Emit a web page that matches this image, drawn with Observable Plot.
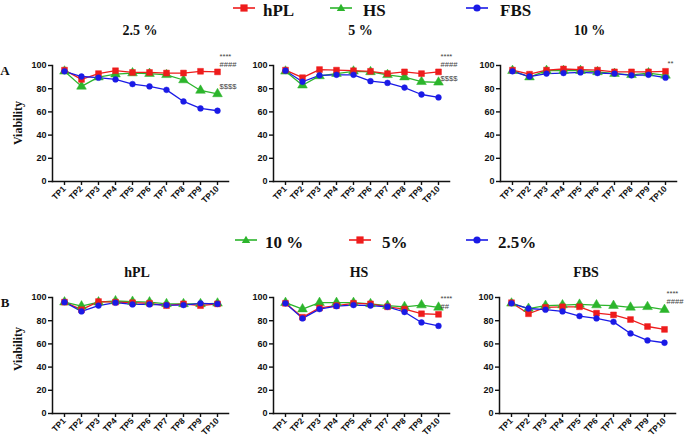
<!DOCTYPE html>
<html><head><meta charset="utf-8">
<script src="https://cdn.jsdelivr.net/npm/d3@7"></script>
<script src="https://cdn.jsdelivr.net/npm/@observablehq/plot@0.6"></script>
<style>
body{margin:0;background:#fff;}
#root{position:relative;width:685px;height:438px;overflow:hidden;font-family:"Liberation Serif","Times New Roman",serif;color:#111;}
.abs{position:absolute;}
.ctr{transform:translate(-50%,-50%);white-space:nowrap;font-weight:bold;line-height:1;}
.title{font-size:14px;}
.leg{font-size:17px;font-weight:bold;transform:translateY(-50%);white-space:nowrap;line-height:1;}
.ylab{font-size:12px;font-weight:bold;transform:translate(-50%,-50%) rotate(-90deg);white-space:nowrap;line-height:1;}
.panel{position:absolute;}
</style>
</head><body><div id="root"></div>
<script>
// ---------- data ----------
const timepoints = ["TP1","TP2","TP3","TP4","TP5","TP6","TP7","TP8","TP9","TP10"];
const sera = ["hPL","HS","FBS"];
const concentrations = ["2.5 %","5 %","10 %"];
const concLegend = ["10 %","5%","2.5%"];
const yTicks = [0,20,40,60,80,100];

const hPL_2_5 = [96,88,93,95.5,94,94,93.5,93.5,95,94.5];
const hPL_5   = [96,89.5,96.5,96,95.5,95,93,94.5,93,94.5];
const hPL_10  = [96,92.5,96,97,96.5,96,94.5,94.5,94.5,95];
const HS_2_5  = [95,82,90,92.5,93.5,93,92,87.5,78.5,75.5];
const HS_5    = [95,83,91,93,95,94.5,92,90,86,85.5];
const HS_10   = [95.5,90,95.5,95.5,95.5,94.5,93,92,93.5,91.5];
const FBS_2_5 = [95,90.5,89.5,88,84,82,79,69,63,61];
const FBS_5   = [95.5,86,91.5,92,92,86.5,85,81,75,72.5];
const FBS_10  = [95,90.5,93,93.5,94,93.5,93,91.5,92,89.5];

// significance annotations (value-axis position in %)
const annA = [
  [{t:"****",v:107.5},{t:"####",v:101},{t:"$$$$",v:82}],
  [{t:"****",v:107.5},{t:"####",v:101},{t:"$$$$",v:89}],
  [{t:"**",v:101.5}]
];
const annB = [
  [],
  [{t:"****",v:99},{t:"##",v:92.5}],
  [{t:"****",v:103},{t:"####",v:96.5}]
];

// ---------- build tidy tables ----------
const table = {
  hPL: {"2.5":hPL_2_5,"5":hPL_5,"10":hPL_10},
  HS:  {"2.5":HS_2_5,"5":HS_5,"10":HS_10},
  FBS: {"2.5":FBS_2_5,"5":FBS_5,"10":FBS_10}
};
const concKeys = ["2.5","5","10"];
function rows(arr){ return arr.map((v,i)=>({tp:timepoints[i], v})); }

const RED="#ee1c1c", GREEN="#2cb52c", BLUE="#1a1ae6";
const serumStyle = {hPL:{c:RED,s:"square",r:3.3}, HS:{c:GREEN,s:"triangle",r:3.6}, FBS:{c:BLUE,s:"circle",r:2.9}};
const concStyle = {"10":{c:GREEN,s:"triangle",r:3.6}, "5":{c:RED,s:"square",r:3.3}, "2.5":{c:BLUE,s:"circle",r:2.9}};

const root = document.getElementById("root");
function add(html, cls, x, y){ const d=document.createElement("div"); d.className="abs "+cls; d.style.left=x+"px"; d.style.top=y+"px"; d.innerHTML=html; root.appendChild(d); return d; }

function panel(series, ann, mb){
  const marks = [];
  for (const s of series){
    marks.push(Plot.line(s.data,{x:"tp",y:"v",stroke:s.c,strokeWidth:1.3}));
  }
  for (const s of series){
    marks.push(Plot.dot(s.data,{x:"tp",y:"v",fill:s.c,stroke:s.c,strokeWidth:0.5,symbol:s.s,r:s.r}));
  }
  marks.push(Plot.text(ann,{x:()=>"TP10",y:"v",text:"t",textAnchor:"start",dx:2,fontSize:7.6,fontWeight:"normal",fill:"#444",fontFamily:"Liberation Sans, Arial, sans-serif"}));
  marks.push(Plot.axisY({ticks:yTicks,tickSize:4,tickPadding:2,strokeWidth:1.4,fontSize:9,fontWeight:"bold",label:null}));
  marks.push(Plot.axisX({tickSize:4,tickPadding:2,tickRotate:-45,strokeWidth:1.4,fontSize:8.5,fontWeight:"bold",label:null}));
  marks.push(Plot.frame({anchor:"left",stroke:"#111",strokeWidth:1.5}));
  marks.push(Plot.frame({anchor:"bottom",stroke:"#111",strokeWidth:1.5}));
  return Plot.plot({
    width:236, height:25+116+mb, marginLeft:52, marginRight:8, marginTop:25, marginBottom:mb,
    style:{fontFamily:"Liberation Sans, Arial, sans-serif",background:"transparent",color:"#111",overflow:"visible"},
    x:{type:"point",domain:timepoints,padding:0.55},
    y:{domain:[0,100]},
    marks
  });
}

// ---------- row A: by concentration ----------
const axA = [52,273,500];
concKeys.forEach((ck,i)=>{
  const series = ["HS","hPL","FBS"].map(sr=>({data:rows(table[sr][ck]),...serumStyle[sr]}));
  const p = panel(series, annA[i], 40);
  p.classList.add("panel"); p.style.left=(axA[i]-52)+"px"; p.style.top="40px";
  root.appendChild(p);
});
// ---------- row B: by serum ----------
const axB = [52,273,499];
sera.forEach((sr,i)=>{
  const series = ["10","5","2.5"].map(ck=>({data:rows(table[sr][ck]),...concStyle[ck]}));
  const p = panel(series, annB[i], 24);
  p.classList.add("panel"); p.style.left=(axB[i]-52)+"px"; p.style.top="272px";
  root.appendChild(p);
});

// ---------- text: titles, labels, legends ----------
const titleA = [[140,31],[360.5,31],[589.5,31]];
concentrations.forEach((c,i)=>add(c,"ctr title",titleA[i][0],titleA[i][1]));
const titleB = [[137,273],[359,273],[586,273]];
sera.forEach((s,i)=>add(s,"ctr title",titleB[i][0],titleB[i][1]));
add("A","ctr title",5,70).style.fontSize="13px";
add("B","ctr title",5,302).style.fontSize="13px";
add("Viability","ylab",17.5,123);
add("Viability","ylab",17.5,349);

function swatch(st){
  const n = 22, h = 12, cx = n/2, cy = h/2;
  let m;
  if (st.s==="square") m = `<rect x="${cx-3.6}" y="${cy-3.6}" width="7.2" height="7.2" fill="${st.c}"/>`;
  else if (st.s==="triangle") m = `<path d="M${cx},${cy-4.2}L${cx+4.2},${cy+3}L${cx-4.2},${cy+3}Z" fill="${st.c}"/>`;
  else m = `<circle cx="${cx}" cy="${cy}" r="3.6" fill="${st.c}"/>`;
  return `<svg width="${n}" height="${h}" style="display:block"><line x1="0" x2="${n}" y1="${cy}" y2="${cy}" stroke="${st.c}" stroke-width="1.6"/>${m}</svg>`;
}
const legTop = [[233,263],[330,363],[466,500]];
sera.forEach((s,i)=>{
  add(swatch(serumStyle[s]),"leg",legTop[i][0],7.5);
  add(s,"leg",legTop[i][1],9.5);
});
const legBot = [[235,265],[349,382],[466,498]];
["10","5","2.5"].forEach((ck,i)=>{
  add(swatch(concStyle[ck]),"leg",legBot[i][0],240);
  add(concLegend[i],"leg",legBot[i][1],241.5);
});
</script>
</body></html>
